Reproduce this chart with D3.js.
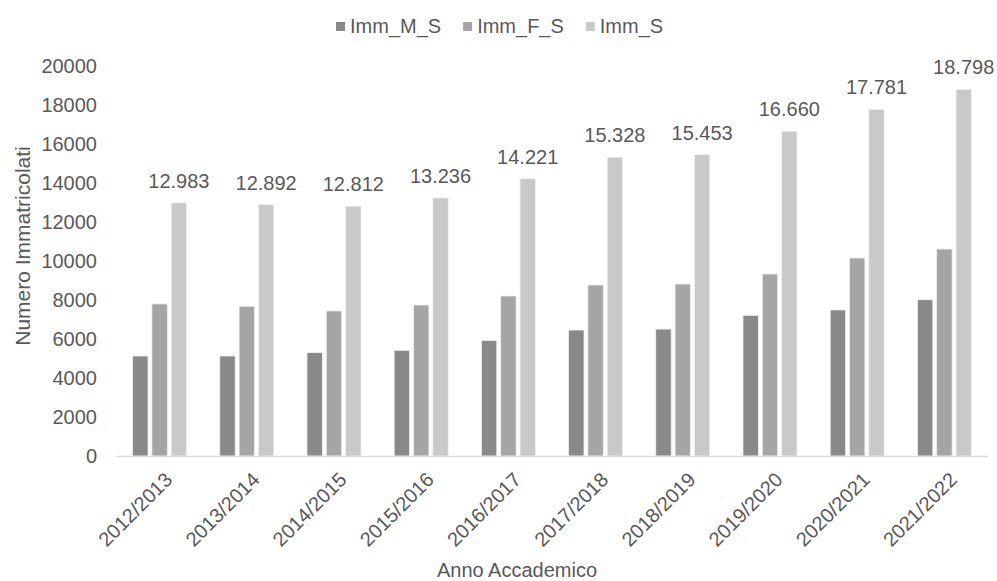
<!DOCTYPE html>
<html>
<head>
<meta charset="utf-8">
<script src="https://cdn.jsdelivr.net/npm/d3@7"></script>
<style>
  body { margin: 0; background: #fff; }
  text { font-family: "Liberation Sans", Arial, sans-serif; fill: #595959; }
</style>
</head>
<body>
<div id="chartDiv"></div>
<script>
const years = ['2012/2013', '2013/2014', '2014/2015', '2015/2016', '2016/2017',
               '2017/2018', '2018/2019', '2019/2020', '2020/2021', '2021/2022'];
const immM = [5130, 5130, 5300, 5420, 5930, 6460, 6510, 7215, 7490, 8015];
const immF = [7800, 7680, 7440, 7745, 8205, 8770, 8820, 9335, 10155, 10615];
const immS = [12983, 12892, 12812, 13236, 14221, 15328, 15453, 16660, 17781, 18798];
const seriesNames = ['Imm_M_S', 'Imm_F_S', 'Imm_S'];
const seriesColors = ['#898989', '#a5a5a5', '#c9c9c9'];
const yTicks = [0, 2000, 4000, 6000, 8000, 10000, 12000, 14000, 16000, 18000, 20000];

const width = 997, height = 581;
const margin = {top: 66, right: 9, bottom: 125, left: 116};
const fs = 20;

const data = years.map((y, i) => ({year: y, values: [immM[i], immF[i], immS[i]]}));

const svg = d3.select('#chartDiv').append('svg')
    .attr('width', width)
    .attr('height', height);

const x = d3.scaleBand()
    .domain(years)
    .range([margin.left, width - margin.right])
    .paddingInner(0.38)
    .paddingOuter(0.19);

const xs = d3.scaleBand()
    .domain(seriesNames)
    .range([0, x.bandwidth()])
    .paddingInner(0.2);

const y = d3.scaleLinear()
    .domain([0, 20000])
    .range([height - margin.bottom, margin.top]);

// y axis (labels only)
svg.append('g')
    .attr('transform', `translate(${margin.left},0)`)
    .call(d3.axisLeft(y).tickValues(yTicks).tickSize(0).tickPadding(19).tickFormat(d3.format('d')))
    .call(g => g.select('.domain').remove())
    .call(g => g.selectAll('text').attr('font-size', fs).attr('fill', '#595959')
        .attr('font-family', '"Liberation Sans", Arial, sans-serif'));

// bars
const groups = svg.append('g')
    .selectAll('g')
    .data(data)
    .join('g')
    .attr('transform', d => `translate(${x(d.year)},0)`);

groups.selectAll('rect')
    .data(d => d.values.map((v, i) => ({key: seriesNames[i], value: v, i})))
    .join('rect')
    .attr('x', d => xs(d.key))
    .attr('y', d => y(d.value))
    .attr('width', xs.bandwidth())
    .attr('height', d => y(0) - y(d.value))
    .attr('fill', d => seriesColors[d.i])
    .attr('stroke', '#f2f2f2')
    .attr('stroke-width', 0.8);

// data labels on total bars
groups.append('text')
    .attr('x', xs('Imm_S') + xs.bandwidth() / 2)
    .attr('y', d => y(d.values[2]) - 15)
    .attr('text-anchor', 'middle')
    .attr('font-size', fs)
    .attr('fill', '#404040')
    .text(d => d3.format(',')(d.values[2]).replace(',', '.'));

// x axis
svg.append('g')
    .attr('transform', `translate(0,${y(0)})`)
    .call(d3.axisBottom(x).tickSize(0).tickPadding(0))
    .call(g => g.select('.domain').attr('stroke', '#d9d9d9').attr('stroke-width', 1.5))
    .call(g => g.selectAll('text')
        .attr('font-size', fs)
        .attr('fill', '#595959')
        .attr('font-family', '"Liberation Sans", Arial, sans-serif')
        .attr('text-anchor', 'end')
        .attr('dy', '0.35em')
        .attr('transform', 'translate(9,20) rotate(-45)'));

// axis titles
svg.append('text')
    .attr('x', 517)
    .attr('y', 577)
    .attr('text-anchor', 'middle')
    .attr('font-size', fs)
    .text('Anno Accademico');

svg.append('text')
    .attr('transform', 'translate(30,246) rotate(-90)')
    .attr('text-anchor', 'middle')
    .attr('font-size', 21)
    .text('Numero Immatricolati');

// legend
const legend = svg.append('g').attr('transform', 'translate(0,33)');
let lx = 336;
seriesNames.forEach((name, i) => {
    legend.append('rect')
        .attr('x', lx)
        .attr('y', -11)
        .attr('width', 9)
        .attr('height', 9)
        .attr('fill', seriesColors[i]);
    const t = legend.append('text')
        .attr('x', lx + 14)
        .attr('y', 0)
        .attr('font-size', fs)
        .text(name);
    lx += 14 + t.node().getComputedTextLength() + 22;
});
</script>
</body>
</html>
